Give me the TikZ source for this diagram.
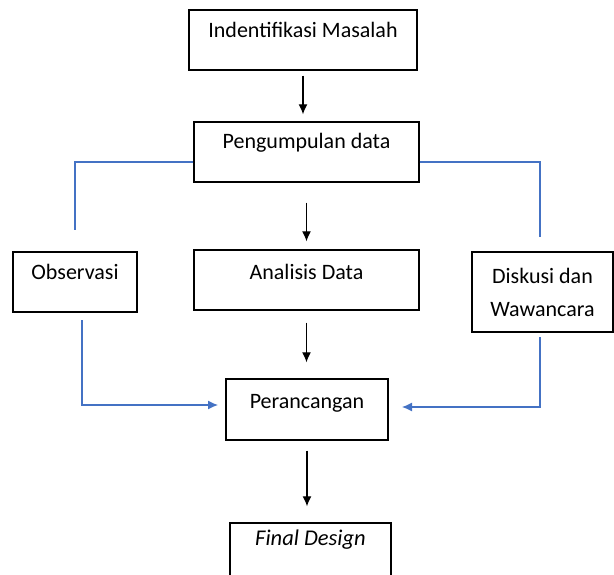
\documentclass[tikz,border=0pt]{standalone}
\usepackage{fontspec}
\setmainfont{Carlito}
\usetikzlibrary{arrows.meta}
\definecolor{wordblue}{RGB}{68,114,196}
\begin{document}
\begin{tikzpicture}[x=1pt,y=-1pt,
  box/.style={draw=black,line width=1.4pt,rectangle,inner sep=0pt,align=center,
    font=\fontsize{22}{33}\selectfont},
  arr/.style={draw=black,line width=1.3pt,-{Latex[length=10pt,width=9pt]}},
  bl/.style={draw=wordblue,line width=1.2pt},
  blarr/.style={bl,-{Latex[length=10pt,width=9pt]}}]
\useasboundingbox (0,0) rectangle (614,574);
\begin{scope}
\clip (0,0) rectangle (614,574);
\node[box,minimum width=228pt,text height=27pt,text depth=33pt] (idm) at (303,40) {Indentifikasi Masalah};
\node[box,minimum width=225pt,text height=26pt,text depth=34pt] (peng) at (306.5,152) {Pengumpulan data};
\node[box,minimum width=225pt,text height=29pt,text depth=31pt] (ana) at (306.5,280) {Analisis Data};
\node[box,minimum width=124pt,text height=27pt,text depth=33pt] (obs) at (75,282) {Observasi};
\node[box,minimum width=141pt,minimum height=80pt] (disk) at (542.5,292) {Diskusi dan\\Wawancara};
\node[box,minimum width=162pt,text height=29pt,text depth=32pt] (per) at (307,409.5) {Perancangan};
\node[box,minimum width=161pt,text height=22pt,text depth=38pt] (fin) at (310.5,553) {\fontsize{22.5}{33}\selectfont\itshape Final Design};
\end{scope}
\coordinate (ltop) at (75,230);
\coordinate (rtop) at (540,237);
\coordinate (lbot) at (82,320);
\coordinate (ltip) at (218,405);
\coordinate (rbot) at (540,337);
\coordinate (rtip) at (402,407);
% black arrows
\draw[arr,shorten <=5pt,shorten >=7pt] (idm.south) -- (idm.south |- peng.north);
\draw[arr,shorten <=20pt,shorten >=8pt] (peng.south) -- (peng.south |- ana.north);
\draw[arr,shorten <=12pt,shorten >=16pt] (ana.south) -- (ana.south |- per.north);
\draw[arr,shorten <=10pt,shorten >=16pt] (per.south) -- (per.south |- fin.north);
% blue connectors
\draw[bl] ([yshift=-10pt]peng.west) -| (ltop);
\draw[bl] ([yshift=-10pt]peng.east) -| (rtop);
\draw[blarr] (lbot) |- (ltip);
\draw[blarr] (rbot) |- (rtip);
\end{tikzpicture}
\end{document}
